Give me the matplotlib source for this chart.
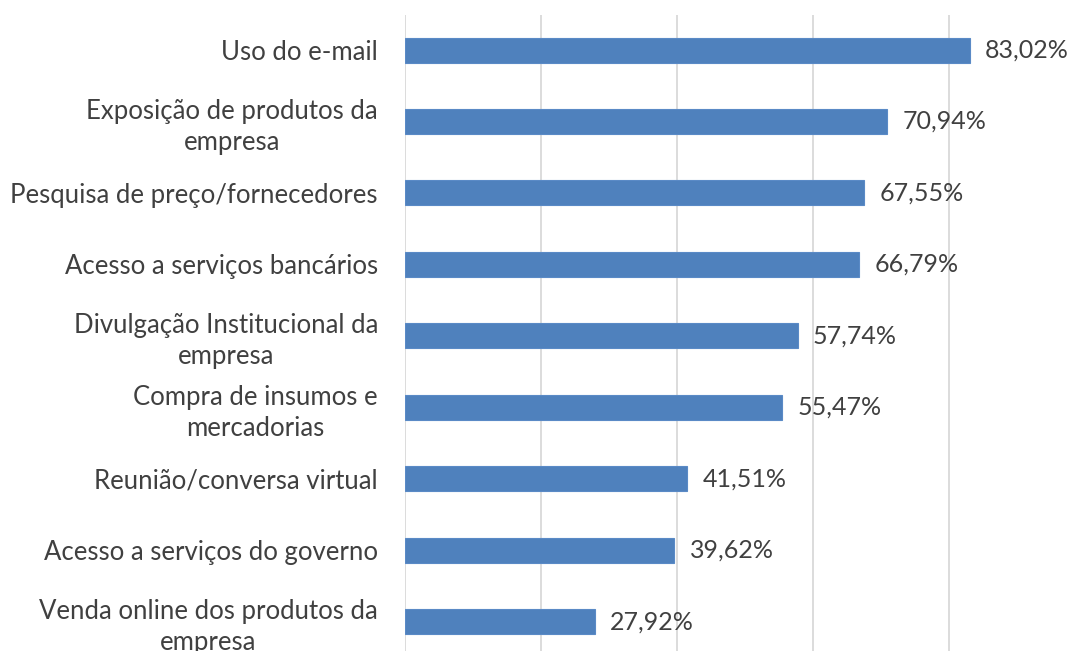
"""Horizontal bar chart: uso da internet pelas empresas"""

import matplotlib
matplotlib.use("Agg")
import matplotlib.pyplot as plt

categories = [
    "Uso do e-mail",
    "Exposição de produtos da\nempresa",
    "Pesquisa de preço/fornecedores",
    "Acesso a serviços bancários",
    "Divulgação Institucional da\nempresa",
    "Compra de insumos e\nmercadorias",
    "Reunião/conversa virtual",
    "Acesso a serviços do governo",
    "Venda online dos produtos da\nempresa",
]
values = [83.02, 70.94, 67.55, 66.79, 57.74, 55.47, 41.51, 39.62, 27.92]
grid_ticks = [0, 20, 40, 60, 80]

plt.rcParams["font.family"] = ["Lato", "DejaVu Sans"]
text_color = "#404040"

fig = plt.figure(figsize=(10.72, 6.51), dpi=100)
ax = fig.add_axes([405 / 1072, 0, 1 - 405 / 1072, 1 - 15 / 651])

pos = list(range(len(categories)))
ax.barh(pos, values, height=0.35, color="#4f81bd", edgecolor="#5a8ac6", linewidth=0.8, zorder=3)

for y, v in zip(pos, values):
    ax.annotate(f"{v:.2f}%".replace(".", ","), xy=(v, y), xytext=(11, 0),
                textcoords="offset points", va="center", ha="left",
                fontsize=18, color=text_color)

ax.set_xlim(0, (1072 - 405) / 136 * 20)
ax.set_ylim(len(categories) - 1 + 0.41, -0.49)
ax.set_xticks(grid_ticks)
ax.set_xticklabels([])
ax.tick_params(axis="x", length=0)
ax.grid(axis="x", color="#d9d9d9", linewidth=1.3, zorder=0)

ax.set_yticks(pos)
ax.set_yticklabels(categories, fontsize=18.5, color=text_color)
ax.tick_params(axis="y", length=0, pad=19.5)
for lbl in ax.get_yticklabels():
    lbl.set_multialignment("center")
    lbl.set_linespacing(1.3)

for s in ax.spines.values():
    s.set_visible(False)

plt.savefig("out.png", dpi=100)
plt.close()
